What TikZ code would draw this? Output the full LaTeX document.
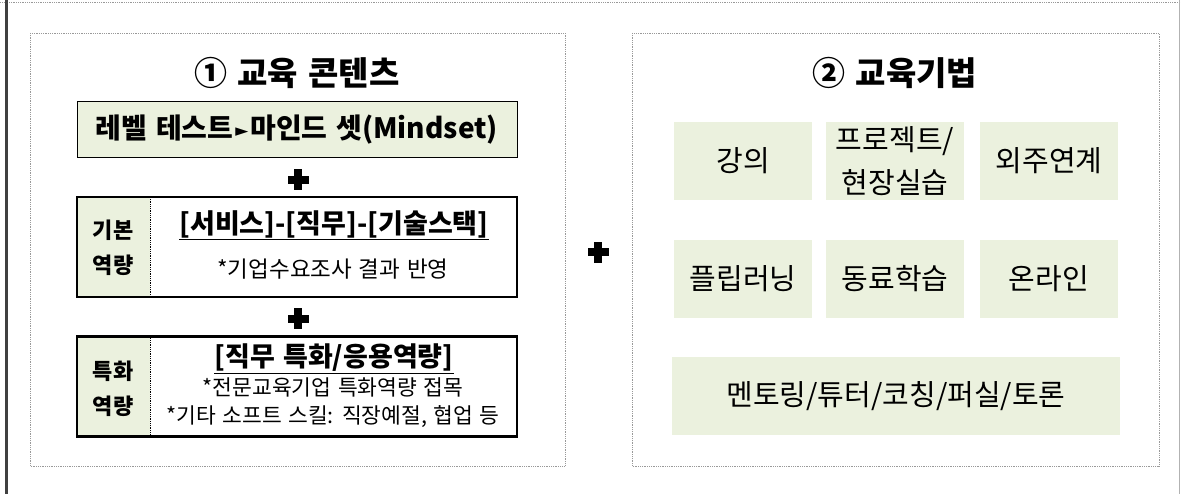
\documentclass[tikz,border=0pt]{standalone}
\usepackage{fontspec}
\setmainfont[WordSpace=1.35]{Noto Sans CJK KR}
\newfontfamily\symfont{DejaVu Sans}
\usetikzlibrary{positioning}

\definecolor{cellgreen}{RGB}{235,241,222}
\definecolor{framegray}{RGB}{64,64,64}

\tikzset{
  panel/.style={draw=gray!80, densely dotted, line width=0.8pt},
  paneltitle/.style={font=\fontsize{33}{40}\selectfont\bfseries},
  stagebox/.style={draw, line width=2.5pt, fill=white, minimum width=440pt,
    minimum height=100pt, inner sep=0pt,
    path picture={
      \fill[cellgreen] (path picture bounding box.north west)
        rectangle ([xshift=73pt]path picture bounding box.south west);
      \draw[densely dotted, line width=0.8pt]
        ([xshift=73pt]path picture bounding box.north west)
        -- ([xshift=73pt]path picture bounding box.south west);}},
  stagelabel/.style={font=\fontsize{22}{35}\selectfont\bfseries, align=center},
  stagehead/.style={font=\fontsize{27}{32}\selectfont\bfseries},
  stagenote/.style={font=\fontsize{22.5}{28}\selectfont, align=center},
  methodcell/.style={fill=cellgreen, minimum width=138pt, minimum height=78pt,
    inner sep=0pt, align=center, font=\fontsize{29}{43}\selectfont},
  plusmark/.pic={
    \fill (-10.5,-4) rectangle (10.5,4);
    \fill (-4,-10.5) rectangle (4,10.5);}
}

\begin{document}
\begin{tikzpicture}[x=1pt, y=-1pt]
  \useasboundingbox (0,0) rectangle (1181,494);

  % outer frame
  \draw[gray!80, densely dotted, line width=0.8pt] (0,2) -- (1181,2);
  \draw[framegray, line width=3pt] (6.5,0) -- (6.5,494);
  \draw[gray!60, line width=1pt] (1179.5,0) -- (1179.5,494);

  % panel 1: contents
  \draw[panel] (30,33) rectangle (565,466);
  \node[paneltitle] (contitle) at (297,73) {① 교육 콘텐츠};

  \node[draw, line width=1pt, fill=cellgreen, minimum width=440pt,
    minimum height=56pt, font=\fontsize{28}{32}\selectfont\bfseries]
    (level) at (297,130) {레벨 테스트\hspace{2pt}\raisebox{2pt}{\symfont\fontsize{17}{20}\selectfont ►}\hspace{2pt}마인드 셋(Mindset)};

  \pic at (298,180) {plusmark};

  \node[stagebox] (basic) at (297,247) {};
  \node[stagelabel] (basiclabel) at (113,248) {기본\\역량};
  \node[stagehead] (basichead) at (334,225) {\underline{[서비스]-[직무]-[기술스택]}};
  \node[stagenote] (basicnote) at (333,269) {*기업수요조사 결과 반영};

  \pic at (298,319) {plusmark};

  \node[stagebox] (special) at (297,386.5) {};
  \node[stagelabel] (speciallabel) at (113,389) {특화\\역량};
  \node[stagehead] (specialhead) at (334,359) {\underline{[직무 특화/응용역량]}};
  \node[stagenote, font=\fontsize{21.5}{28}\selectfont] (specialnote) at (333,403)
    {*전문교육기업 특화역량 접목\\*기타 소프트 스킬: 직장예절, 협업 등};

  \pic at (598,252.5) {plusmark};

  % panel 2: methods
  \draw[panel] (632,33) rectangle (1159,466);
  \node[paneltitle] (methtitle) at (895,73) {② 교육기법};

  \node[methodcell] (lecture) at (743,161) {강의};
  \node[methodcell] (project) at (895,161) {프로젝트/\\현장실습};
  \node[methodcell] (outsource) at (1049,161) {외주연계};
  \node[methodcell] (flipped) at (743,279) {플립러닝};
  \node[methodcell] (peer) at (895,279) {동료학습};
  \node[methodcell] (online) at (1049,279) {온라인};
  \node[methodcell, minimum width=448pt] (mentor) at (896,396)
    {멘토링/튜터/코칭/퍼실/토론};
\end{tikzpicture}
\end{document}
